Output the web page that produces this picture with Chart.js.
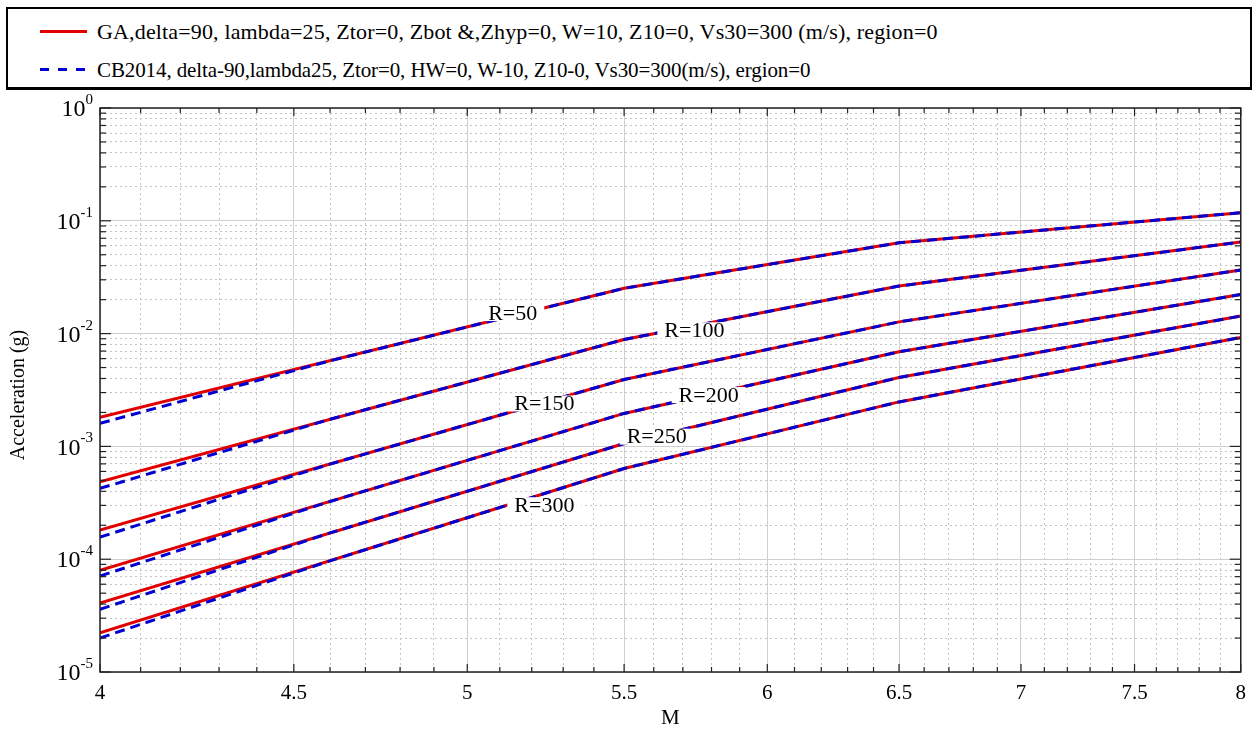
<!DOCTYPE html>
<html>
<head>
<meta charset="utf-8">
<script src="https://cdn.jsdelivr.net/npm/chart.js@4.4.1/dist/chart.umd.min.js"></script>
<style>
body { margin: 0; background: #fff; }
#wrap { position: relative; width: 1255px; height: 746px; }
#legend {
    position: absolute; left: 6px; top: 7px; width: 1246px; height: 83px;
    box-sizing: border-box; border: 2px solid #000; border-bottom-width: 3px;
    font-family: 'Times New Roman', 'Liberation Serif', serif; font-size: 22px; letter-spacing: 0.15px;
    color: #000; background: #fff;
}
.row { position: absolute; left: 0; height: 24px; line-height: 24px; white-space: nowrap; }
.sample { position: absolute; left: 32px; top: 10px; width: 47px; height: 3px; }
.txt { position: absolute; left: 89px; top: 0; }
</style>
</head>
<body>
<div id="wrap">
    <canvas id="chart" width="1255" height="746"></canvas>
    <div id="legend">
        <div class="row" style="top: 11px;">
            <span class="sample" style="background: rgb(225,0,0);"></span>
            <span class="txt">GA,delta=90, lambda=25, Ztor=0, Zbot &amp;,Zhyp=0, W=10, Z10=0, Vs30=300 (m/s), region=0</span>
        </div>
        <div class="row" style="top: 49px; font-size: 21px; letter-spacing: -0.1px;">
            <span class="sample" style="background: repeating-linear-gradient(to right, rgb(0,0,210) 0 9px, transparent 9px 18px);"></span>
            <span class="txt">CB2014, delta-90,lambda25, Ztor=0, HW=0, W-10, Z10-0, Vs30=300(m/s), ergion=0</span>
        </div>
    </div>
</div>
<script>
// Distances of each curve pair (km)
const distances = [50, 100, 150, 200, 250, 300];

// GA curves: magnitude break points and acceleration (g) per distance
const gaMagnitudes = [4, 5.5, 6.5, 8];
const gaValues = [
    [1.81e-3, 0.0252, 0.0638, 0.118],
    [4.85e-4, 8.87e-3, 0.0264, 0.0648],
    [1.81e-4, 3.92e-3, 0.0127, 0.0366],
    [7.98e-5, 1.96e-3, 6.9e-3, 0.0222],
    [4.09e-5, 1.06e-3, 4.08e-3, 0.0143],
    [2.22e-5, 6.37e-4, 2.48e-3, 9.25e-3]
];

// CB2014 curves
const cbMagnitudes = [4, 4.6, 5.5, 6.5, 8];
const cbValues = [
    [1.60e-3, 5.74e-3, 0.0252, 0.0638, 0.118],
    [4.24e-4, 1.74e-3, 8.87e-3, 0.0264, 0.0648],
    [1.57e-4, 6.97e-4, 3.92e-3, 0.0127, 0.0366],
    [7.10e-5, 3.25e-4, 1.96e-3, 6.9e-3, 0.0222],
    [3.60e-5, 1.71e-4, 1.06e-3, 4.08e-3, 0.0143],
    [2.00e-5, 9.67e-5, 6.37e-4, 2.48e-3, 9.25e-3]
];

// In-line curve labels
const labelTexts = ['R=50', 'R=100', 'R=150', 'R=200', 'R=250', 'R=300'];
const labelM = [5.14, 5.74, 5.24, 5.79, 5.61, 5.24];
const labelAcc = [0.0152, 0.0107, 2.40e-3, 2.85e-3, 1.22e-3, 3.01e-4];

// Tick values
const xMajorTicks = [4, 4.5, 5, 5.5, 6, 6.5, 7, 7.5, 8];
const xMinorTicks = [4.1, 4.2, 4.3, 4.4, 4.6, 4.7, 4.8, 4.9, 5.1, 5.2, 5.3, 5.4, 5.6, 5.7, 5.8, 5.9,
    6.1, 6.2, 6.3, 6.4, 6.6, 6.7, 6.8, 6.9, 7.1, 7.2, 7.3, 7.4, 7.6, 7.7, 7.8, 7.9];
const yMajorTicks = [1e-5, 1e-4, 1e-3, 1e-2, 1e-1, 1];
const yMinorMantissas = [2, 3, 4, 5, 6, 7, 8, 9];

const yMinorTicks = [];
yMajorTicks.slice(0, -1).forEach(d => {
    yMinorMantissas.forEach(m => yMinorTicks.push(m * d));
});

const RED = 'rgb(225,0,0)';
const BLUE = 'rgb(0,0,210)';
const FONT = "'Times New Roman', 'Liberation Serif', serif";

const datasets = [];
distances.forEach((r, i) => {
    datasets.push({
        label: 'GA R=' + r,
        data: gaMagnitudes.map((m, j) => ({ x: m, y: gaValues[i][j] })),
        borderColor: RED,
        borderWidth: 3,
        pointRadius: 0,
        order: 2
    });
});
distances.forEach((r, i) => {
    datasets.push({
        label: 'CB2014 R=' + r,
        data: cbMagnitudes.map((m, j) => ({ x: m, y: cbValues[i][j] })),
        borderColor: BLUE,
        borderWidth: 3,
        borderDash: [10, 6],
        pointRadius: 0,
        order: 1
    });
});

const decorPlugin = {
    id: 'decor',
    afterDatasetsDraw(chart) {
        const ctx = chart.ctx;
        const xs = chart.scales.x, ys = chart.scales.y;
        ctx.save();
        ctx.font = '22px ' + FONT;
        ctx.textAlign = 'center';
        ctx.textBaseline = 'middle';
        labelTexts.forEach((t, i) => {
            const px = xs.getPixelForValue(labelM[i]);
            const py = ys.getPixelForValue(labelAcc[i]);
            const w = ctx.measureText(t).width + 14;
            ctx.fillStyle = '#fff';
            ctx.fillRect(px - w / 2, py - 8, w, 16);
            ctx.fillStyle = '#000';
            ctx.fillText(t, px, py + 1);
        });
        ctx.restore();
    },
    afterDraw(chart) {
        const ctx = chart.ctx;
        const { left, right, top, bottom } = chart.chartArea;
        const s = chart.scales;
        ctx.save();
        ctx.strokeStyle = '#222';
        ctx.lineWidth = 1.2;
        const line = (x1, y1, x2, y2) => {
            ctx.beginPath(); ctx.moveTo(x1, y1); ctx.lineTo(x2, y2); ctx.stroke();
        };
        // inward ticks on all four sides
        s.x.ticks.forEach(t => {
            const px = s.x.getPixelForValue(t.value);
            line(px, bottom, px, bottom - 8); line(px, top, px, top + 8);
        });
        s.x2.ticks.forEach(t => {
            const px = s.x2.getPixelForValue(t.value);
            line(px, bottom, px, bottom - 5); line(px, top, px, top + 5);
        });
        s.y.ticks.forEach(t => {
            const py = s.y.getPixelForValue(t.value);
            line(left, py, left + 11, py); line(right, py, right - 11, py);
        });
        s.y2.ticks.forEach(t => {
            const py = s.y2.getPixelForValue(t.value);
            line(left, py, left + 6, py); line(right, py, right - 6, py);
        });
        // frame
        ctx.lineWidth = 1.5;
        ctx.strokeRect(left, top, right - left, bottom - top);
        // y tick labels as 10^n
        ctx.fillStyle = '#000';
        ctx.textBaseline = 'middle';
        ctx.textAlign = 'left';
        s.y.ticks.forEach(t => {
            const py = s.y.getPixelForValue(t.value);
            const exp = String(Math.round(Math.log10(t.value)));
            ctx.font = '15px ' + FONT;
            const ew = ctx.measureText(exp).width;
            ctx.font = '24px ' + FONT;
            const bw = ctx.measureText('10').width;
            const x0 = 93 - ew - bw;
            ctx.fillText('10', x0, py + 2);
            ctx.font = '15px ' + FONT;
            ctx.fillText(exp, x0 + bw, py - 8);
        });
        // y axis title
        ctx.save();
        ctx.translate(19, 395);
        ctx.rotate(-Math.PI / 2);
        ctx.textAlign = 'center';
        ctx.font = '20px ' + FONT;
        ctx.fillText('Acceleration (g)', 0, 0);
        ctx.restore();
        ctx.restore();
    }
};

const gridMajor = '#cfcfcf';
const gridMinor = '#c4c4c4';

new Chart(document.getElementById('chart'), {
    type: 'line',
    data: { datasets: datasets },
    options: {
        responsive: false,
        animation: false,
        devicePixelRatio: 1,
        layout: { padding: { top: 108, right: 11, left: 0, bottom: 0 } },
        plugins: { legend: { display: false }, tooltip: { enabled: false } },
        scales: {
            x: {
                type: 'logarithmic',
                position: 'bottom',
                min: 4, max: 8,
                afterBuildTicks: (scale) => { scale.ticks = xMajorTicks.map(v => ({ value: v })); },
                afterFit: (scale) => { scale.height = 74; },
                ticks: {
                    color: '#000',
                    font: { family: FONT, size: 21 },
                    padding: 9,
                    maxRotation: 0,
                    autoSkip: false,
                    callback: (v) => String(v)
                },
                grid: { color: gridMajor, lineWidth: 1, drawTicks: false },
                border: { display: false },
                title: {
                    display: true, text: 'M', color: '#000',
                    font: { family: FONT, size: 21 },
                    padding: { top: 0, bottom: 15 }
                }
            },
            x2: {
                type: 'logarithmic',
                position: 'bottom',
                min: 4, max: 8,
                afterBuildTicks: (scale) => { scale.ticks = xMinorTicks.map(v => ({ value: v })); },
                afterFit: (scale) => { scale.height = 0; },
                ticks: { display: false },
                grid: { color: gridMinor, lineWidth: 1, drawTicks: false },
                border: { display: false, dash: [2, 3] }
            },
            y: {
                type: 'logarithmic',
                position: 'left',
                min: 1e-5, max: 1,
                afterBuildTicks: (scale) => { scale.ticks = yMajorTicks.map(v => ({ value: v })); },
                afterFit: (scale) => { scale.width = 100; },
                ticks: { display: false },
                grid: { color: gridMajor, lineWidth: 1, drawTicks: false },
                border: { display: false }
            },
            y2: {
                type: 'logarithmic',
                position: 'left',
                min: 1e-5, max: 1,
                afterBuildTicks: (scale) => { scale.ticks = yMinorTicks.map(v => ({ value: v })); },
                afterFit: (scale) => { scale.width = 0; },
                ticks: { display: false },
                grid: { color: gridMinor, lineWidth: 1, drawTicks: false },
                border: { display: false, dash: [2, 3] }
            }
        }
    },
    plugins: [decorPlugin]
});
</script>
</body>
</html>
